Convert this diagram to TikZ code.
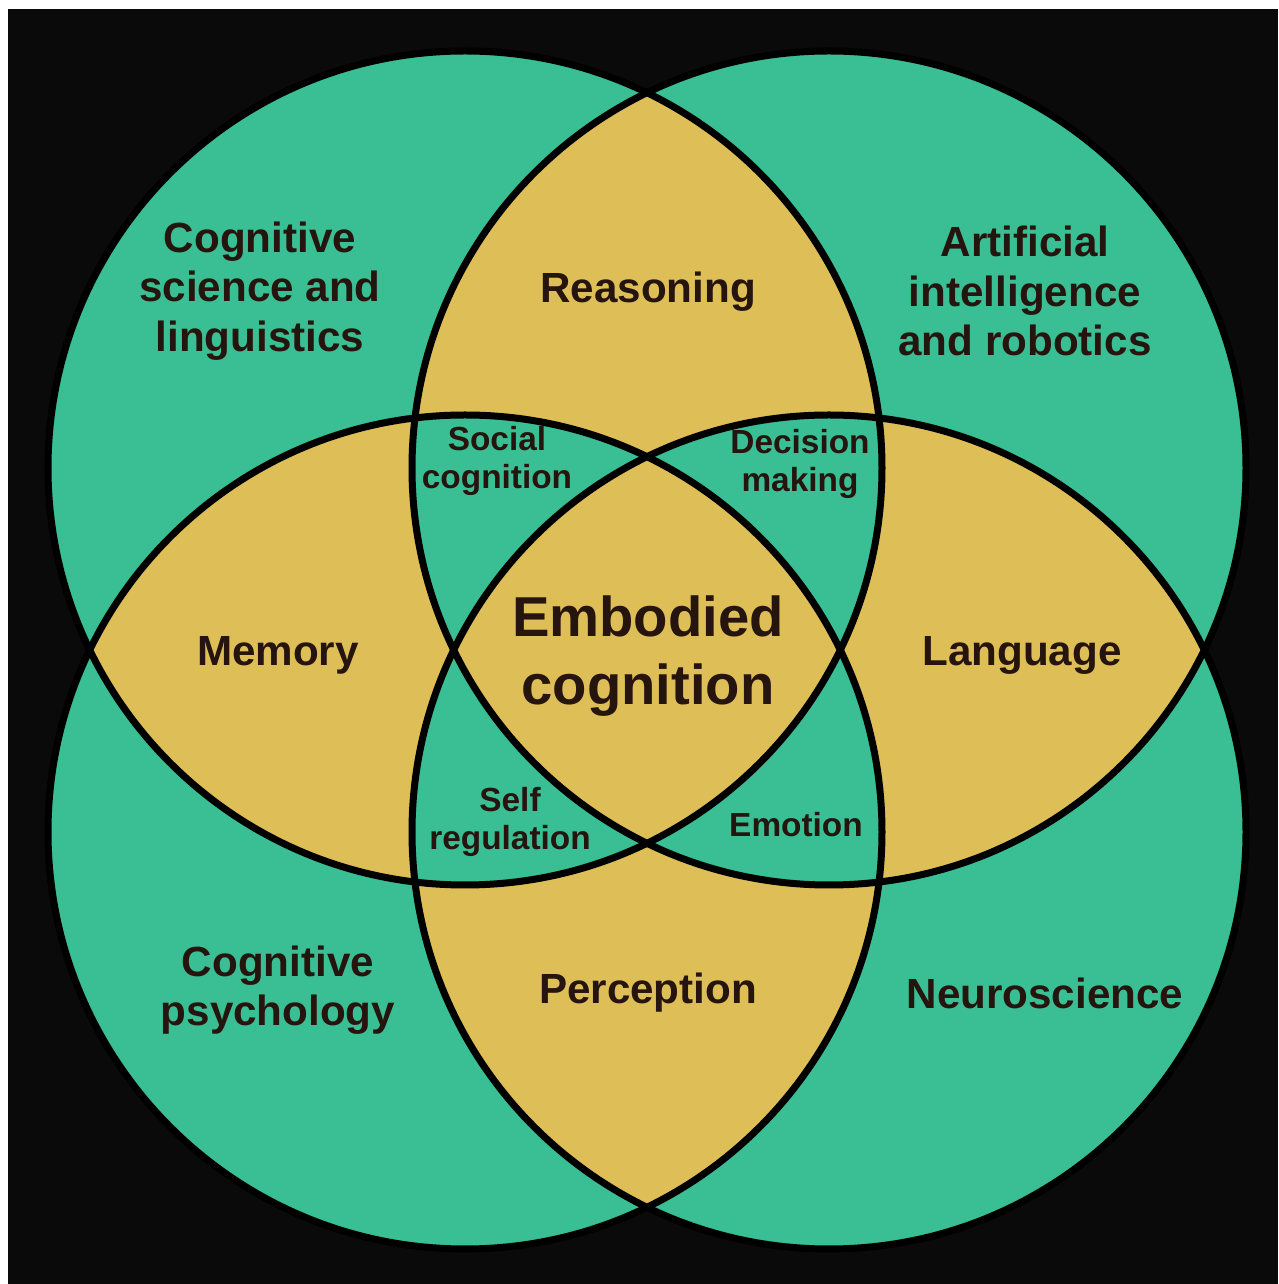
\documentclass[tikz,border=0pt]{standalone}
\usepackage{fontspec}
\setmainfont{Liberation Sans}

\begin{document}
\begin{tikzpicture}

% Colors
\definecolor{venngreen}{RGB}{58,190,148} % teal
\definecolor{venngold}{RGB}{222,190,86}  % gold
\definecolor{ink}{RGB}{38,20,14}         % text
\definecolor{bg}{RGB}{10,10,10}          % background

\tikzset{
  field/.style={text=ink, inner sep=0pt, align=center, font=\bfseries\fontsize{12}{14}\selectfont},
  overlap/.style={text=ink, inner sep=0pt, align=center, font=\bfseries\fontsize{9.5}{11}\selectfont},
  core/.style={text=ink, inner sep=0pt, align=center, font=\bfseries\fontsize{16}{19.5}\selectfont},
  rim/.style={draw=black, line width=0.07cm}
}

% === Background ===
\fill[white] (0,0) rectangle (12.78,12.84);
\fill[bg] (0.08,0) rectangle (12.78,12.75);

% === Circle centres ===
\coordinate (tl) at (4.65,8.16);
\coordinate (tr) at (8.29,8.16);
\coordinate (bl) at (4.65,4.52);
\coordinate (br) at (8.29,4.52);

% === Fills: even overlaps gold, odd overlaps green ===
\fill[venngold] (tl) circle (4.17) (tr) circle (4.17) (bl) circle (4.17) (br) circle (4.17);
\fill[venngreen, even odd rule] (tl) circle (4.17) (tr) circle (4.17) (bl) circle (4.17) (br) circle (4.17);

% === Outlines ===
\draw[rim] (tl) circle (4.17);
\draw[rim] (tr) circle (4.17);
\draw[rim] (bl) circle (4.17);
\draw[rim] (br) circle (4.17);

% === Labels ===
\node[field] (cogsci) at (2.60,9.93) {Cognitive\\science and\\linguistics};
\node[field] (reason) at (6.48,9.92) {Reasoning};
\node[field] (airob) at (10.25,9.93) {Artificial\\intelligence\\and robotics};

\node[overlap] (social) at (4.97,8.23) {Social\\cognition};
\node[overlap] (decide) at (8.00,8.20) {Decision\\making};

\node[field] (memory) at (2.78,6.29) {Memory};
\node[core] (embodied) at (6.48,6.28) {Embodied\\cognition};
\node[field] (lang) at (10.22,6.29) {Language};

\node[overlap] (selfreg) at (5.10,4.62) {Self\\regulation};
\node[overlap] (emotion) at (7.96,4.59) {Emotion};

\node[field] (cogpsy) at (2.78,2.94) {Cognitive\\psychology};
\node[field] (percep) at (6.48,2.91) {Perception};
\node[field] (neuro) at (10.45,2.91) {Neuroscience};

\end{tikzpicture}
\end{document}
